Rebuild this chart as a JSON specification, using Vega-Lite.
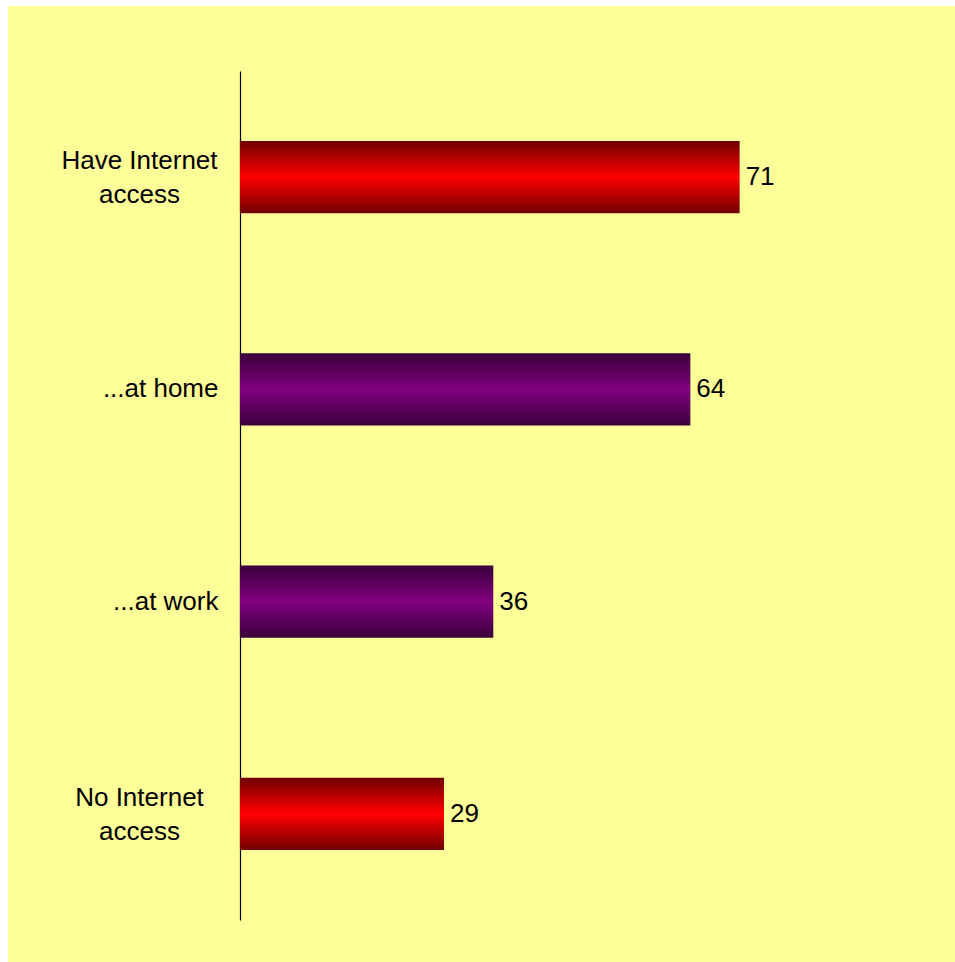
{
  "$schema": "https://vega.github.io/schema/vega-lite/v6.json",
  "width": 947,
  "height": 956,
  "autosize": {"type": "none"},
  "padding": {"left": 8, "top": 6, "right": 0, "bottom": 0},
  "background": "white",
  "config": {
    "view": {"fill": "#FFFF99", "stroke": null},
    "font": "Liberation Sans"
  },
  "data": {
    "values": [
      {"category": "Have Internet access", "value": 71, "group": "red"},
      {"category": "...at home", "value": 64, "group": "purple"},
      {"category": "...at work", "value": 36, "group": "purple"},
      {"category": "No Internet access", "value": 29, "group": "red"}
    ]
  },
  "encoding": {
    "y": {
      "field": "category",
      "type": "nominal",
      "sort": ["Have Internet access", "...at home", "...at work", "No Internet access"],
      "scale": {"range": [65, 914], "paddingInner": 0.66, "paddingOuter": 0.33},
      "axis": {
        "title": null,
        "offset": -232,
        "ticks": false,
        "grid": false,
        "domainColor": "#000000",
        "domainWidth": 1.2,
        "labelFont": "Liberation Sans",
        "labelFontSize": 26,
        "labelColor": "#000000",
        "labelLimit": 0,
        "labelLineHeight": 34,
        "labelBaseline": "middle",
        "labelExpr": "datum.value == 'Have Internet access' ? ['Have Internet', 'access'] : datum.value == 'No Internet access' ? ['No Internet', 'access'] : datum.label",
        "labelAlign": {"condition": {"test": "indexof(datum.value, 'Internet') >= 0", "value": "center"}, "value": "right"},
        "labelPadding": {"condition": {"test": "indexof(datum.value, 'Internet') >= 0", "value": 101}, "value": 22},
        "labelOffset": {"condition": {"test": "indexof(datum.value, 'Internet') >= 0", "value": -16}, "value": 0}
      }
    },
    "x": {
      "field": "value",
      "type": "quantitative",
      "scale": {"domain": [-32.95, 101.6], "nice": false, "zero": false},
      "axis": null
    }
  },
  "layer": [
    {
      "transform": [{"filter": "datum.group == 'red'"}],
      "mark": {
        "type": "bar",
        "color": {
          "gradient": "linear", "x1": 0, "y1": 0, "x2": 0, "y2": 1,
          "stops": [
            {"offset": 0, "color": "#700000"},
            {"offset": 0.5, "color": "#ff0000"},
            {"offset": 1, "color": "#700000"}
          ]
        }
      }
    },
    {
      "transform": [{"filter": "datum.group == 'purple'"}],
      "mark": {
        "type": "bar",
        "color": {
          "gradient": "linear", "x1": 0, "y1": 0, "x2": 0, "y2": 1,
          "stops": [
            {"offset": 0, "color": "#3a003a"},
            {"offset": 0.5, "color": "#800080"},
            {"offset": 1, "color": "#3a003a"}
          ]
        }
      }
    },
    {
      "mark": {"type": "text", "align": "left", "baseline": "middle", "dx": 6, "fontSize": 26, "color": "#000000", "font": "Liberation Sans"},
      "encoding": {"text": {"field": "value", "type": "quantitative"}}
    }
  ]
}
